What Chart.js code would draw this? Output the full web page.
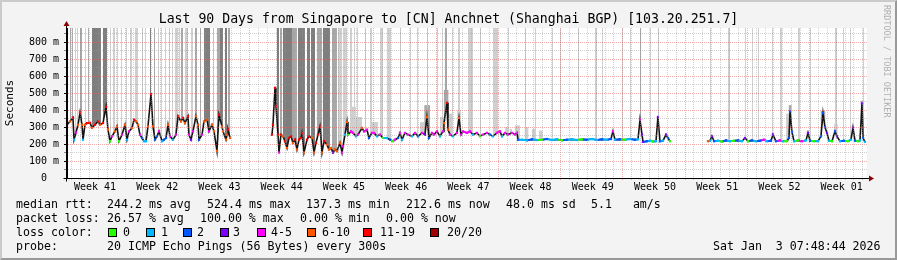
<!DOCTYPE html>
<html>
<head>
<meta charset="utf-8">
<script src="https://cdn.jsdelivr.net/npm/chart.js@4.4.1/dist/chart.umd.min.js"></script>
<style>
  html, body { margin: 0; padding: 0; background: #f3f3f3; }
  #wrap { position: relative; width: 897px; height: 260px; overflow: hidden; font-family: 'DejaVu Sans Mono', monospace; color: #000; }
  #wrap canvas { position: absolute; left: 0; top: 0; }
  #title { position: absolute; left: 0; top: 11px; width: 897px; text-align: center; font-size: 13.2px; line-height: 16px; white-space: pre; }
  #credit { position: absolute; left: 882px; top: 5px; writing-mode: vertical-rl; font-size: 8.5px; line-height: 10px; color: #b0b0b0; white-space: pre; }
  .t { position: absolute; white-space: pre; font-size: 11.6px; line-height: 14px; }
  .box { position: absolute; top: 228px; width: 7px; height: 7px; border: 1px solid #000; }
  #frame { position: absolute; left: 0; top: 0; width: 897px; height: 260px; box-sizing: border-box; border-top: 2px solid #cbcbcb; border-left: 2px solid #cbcbcb; border-right: 2px solid #999; border-bottom: 2px solid #999; pointer-events: none; }
</style>
</head>
<body>
<div id="wrap">
  <canvas id="chartSmoke" width="897" height="260"></canvas>
  <div id="title">Last 90 Days from Singapore to [CN] Anchnet (Shanghai BGP) [103.20.251.7]</div>
  <div id="credit">RRDTOOL / TOBI OETIKER</div>

  <div class="t" style="left:16px;top:197px">median rtt:</div>
  <div class="t" style="left:107px;top:197px">244.2 ms avg</div>
  <div class="t" style="left:207px;top:197px">524.4 ms max</div>
  <div class="t" style="left:306px;top:197px">137.3 ms min</div>
  <div class="t" style="left:406px;top:197px">212.6 ms now</div>
  <div class="t" style="left:506px;top:197px">48.0 ms sd</div>
  <div class="t" style="left:591px;top:197px">5.1   am/s</div>

  <div class="t" style="left:16px;top:211px">packet loss:</div>
  <div class="t" style="left:107px;top:211px">26.57 % avg</div>
  <div class="t" style="left:200px;top:211px">100.00 % max</div>
  <div class="t" style="left:300px;top:211px">0.00 % min</div>
  <div class="t" style="left:386px;top:211px">0.00 % now</div>

  <div class="t" style="left:16px;top:225px">loss color:</div>
  <div id="lossLegend"></div>

  <div class="t" style="left:16px;top:239px">probe:</div>
  <div class="t" style="left:107px;top:239px">20 ICMP Echo Pings (56 Bytes) every 300s</div>
  <div class="t" style="left:713px;top:239px">Sat Jan  3 07:48:44 2026</div>
  <div id="frame"></div>
</div>
<script>
// Data median rtt (ms) per sampel, hari sejak awal grafik; null = tidak ada data
const rttDays = [
  0, 0.34, 0.67, 0.79, 1.01, 1.24, 1.46, 1.69, 1.80, 2.02, 2.25, 2.59, 2.81, 3.15, 3.49, 3.71, 4.05, 4.39, 4.61, 4.84,
  5.06, 5.40, 5.62, 5.85, 6.19, 6.52, 6.75, 6.97, 7.31, 7.54, 7.76, 7.99, 8.21, 8.44, 8.66, 8.89, 9.11, 9.45, 9.67, 9.90,
  10.12, 10.35, 10.69, 10.91, 11.14, 11.36, 11.59, 11.92, 12.26, 12.49, 12.82, 13.05, 13.27, 13.61, 13.72, 13.95, 14.17, 14.51, 14.74, 14.85,
  15.19, 15.41, 15.75, 15.97, 16.31, 16.54, 16.87, 17.10, 17.44, 17.55, 17.89, 18.00, 18.11, 18.34,
  20.5,
  23.06, 23.17, 23.40, 23.51, 23.74, 23.85, 24.07, 24.30, 24.52, 24.75, 24.97, 25.20, 25.42, 25.65, 25.87, 26.10, 26.32, 26.44, 26.66, 27.00,
  27.22, 27.56, 27.79, 28.01, 28.24, 28.46, 28.69, 28.91, 29.25, 29.47, 29.70, 29.92, 30.15, 30.37, 30.71, 30.94, 31.05, 31.27, 31.50, 31.61,
  31.95, 32.17, 32.51, 32.74, 33.19, 33.41, 33.75, 33.97, 34.31, 34.54, 34.87, 35.21, 35.55, 36.00, 36.34, 36.67, 36.90, 37.24, 37.46, 37.69,
  38.02, 38.36, 38.81, 39.15, 39.49, 39.94, 40.27, 40.50, 40.72, 41.06, 41.29, 41.62, 41.96, 42.30, 42.41, 42.75, 42.86, 43.09, 43.42, 43.87,
  44.10, 44.32, 44.55, 45.00, 45.34, 45.67, 46.12, 46.46, 46.80, 47.25, 47.59, 47.92, 48.37, 48.71, 48.94, 49.27, 49.61, 50.06, 50.40, 50.62,
  50.74,
  51.19, 51.75, 52.31, 52.87, 53.44, 54.00, 54.56, 55.12, 55.69, 56.25, 56.81, 57.37, 57.94, 58.50, 59.06, 59.62, 60.19, 60.75, 61.20, 61.42,
  61.65, 62.21, 62.77, 63.34, 63.90, 64.24, 64.46, 64.69, 64.80, 65.25, 65.59, 65.92, 66.26, 66.48, 66.71, 67.05, 67.39, 67.61, 67.84,
  70.0,
  72.11, 72.34, 72.56, 72.79, 73.24, 73.69, 74.14, 74.59, 75.04, 75.49, 75.94, 76.27, 76.61, 77.06, 77.51, 77.96, 78.41, 78.75, 79.20, 79.42,
  79.76, 80.21, 80.55, 81.00, 81.22, 81.34, 81.56, 81.79, 82.24, 82.69, 83.14, 83.36, 83.59, 84.04, 84.49, 84.82, 85.05, 85.27, 85.50, 85.72,
  86.06, 86.40, 86.62, 86.96, 87.41, 87.86, 88.20, 88.42, 88.65, 88.99, 89.21, 89.44, 89.55, 89.77
];
const rttMedian = [
  315, 334, 356, 226, 268, 314, 385, 314, 226, 314, 324, 326, 296, 314, 334, 314, 324, 420, 285, 217,
  246, 275, 304, 217, 255, 314, 226, 275, 295, 344, 334, 314, 255, 236, 217, 217, 304, 495, 305, 226,
  246, 275, 217, 226, 236, 314, 246, 226, 255, 364, 334, 354, 324, 364, 255, 226, 275, 364, 314, 226,
  255, 334, 344, 275, 314, 275, 160, 373, 304, 275, 226, 255, 285, 236,
  null,
  255, 314, 532, 422, 255, 150, 255, 246, 217, 177, 236, 246, 207, 226, 168, 226, 236, 265, 150, 226,
  246, 236, 150, 207, 255, 304, 150, 217, 197, 168, 177, 150, 168, 158, 207, 150, 187, 255, 330, 255,
  275, 266, 246, 256, 295, 275, 285, 236, 266, 266, 246, 256, 236, 236, 226, 217, 226, 236, 266, 226,
  266, 256, 246, 266, 246, 266, 256, 361, 236, 266, 256, 275, 246, 275, 324, 444, 285, 256, 246, 266,
  354, 256, 275, 266, 275, 256, 266, 246, 256, 266, 256, 246, 266, 275, 246, 266, 256, 266, 256, 266,
  226,
  226, 222, 228, 224, 226, 230, 224, 228, 222, 226, 228, 224, 228, 226, 230, 224, 228, 226, 230, 275,
  226, 228, 226, 230, 226, 228, 344, 256, 213, 217, 220, 215, 217, 360, 217, 220, 256, 236, 217,
  null,
  217, 220, 246, 217, 220, 215, 222, 217, 220, 222, 217, 236, 217, 222, 217, 220, 226, 217, 220, 256,
  217, 222, 217, 217, 236, 393, 270, 217, 222, 217, 222, 266, 220, 217, 217, 246, 383, 300, 266, 220,
  217, 275, 246, 217, 220, 217, 226, 297, 220, 217, 222, 440, 236, 213
];
// Jumlah ping hilang (dari 20) per sampel
const rttLoss = [
  13, 8, 13, 1, 4, 8, 13, 8, 1, 8, 13, 13, 8, 13, 13, 8, 13, 13, 8, 0,
  4, 8, 8, 0, 4, 8, 1, 4, 8, 13, 8, 8, 4, 2, 1, 1, 8, 13, 8, 2,
  2, 4, 1, 2, 2, 8, 4, 1, 4, 13, 8, 13, 8, 13, 4, 3, 4, 8, 8, 2,
  4, 8, 8, 4, 8, 8, 8, 13, 8, 8, 8, 8, 13, 8,
  0,
  13, 13, 13, 13, 13, 4, 13, 8, 13, 8, 13, 13, 8, 13, 8, 13, 13, 13, 8, 13,
  13, 8, 8, 13, 13, 13, 8, 13, 8, 8, 8, 3, 8, 8, 8, 4, 4, 1, 8, 0,
  4, 4, 1, 4, 6, 4, 4, 2, 4, 4, 1, 4, 0, 1, 2, 0, 4, 2, 4, 1,
  4, 4, 1, 4, 2, 4, 3, 6, 2, 4, 4, 4, 1, 4, 6, 11, 6, 4, 1, 4,
  6, 4, 4, 4, 4, 1, 4, 0, 4, 4, 2, 1, 4, 4, 1, 4, 4, 4, 4, 4,
  2,
  1, 1, 2, 1, 0, 2, 1, 1, 0, 2, 1, 1, 0, 2, 1, 1, 2, 1, 2, 4,
  1, 2, 0, 1, 2, 1, 4, 3, 3, 2, 1, 0, 1, 3, 2, 1, 3, 2, 0,
  0,
  6, 1, 3, 2, 1, 0, 2, 1, 0, 2, 1, 3, 0, 2, 1, 2, 4, 1, 2, 3,
  2, 4, 1, 0, 2, 2, 2, 1, 0, 4, 1, 3, 2, 0, 1, 2, 2, 2, 3, 1,
  0, 2, 3, 1, 2, 0, 1, 3, 2, 0, 1, 3, 2, 1
];

// Asap pendek (haze): rentang hari, puncak rtt (ms), kepadatan 1..3
const hazeFrom = [32.06, 32.50, 34.31, 39.71, 40.20, 41.96, 42.40, 42.90, 43.90, 49.30,
  49.80, 50.40, 51.50, 52.30, 53.10, 80.90, 81.20, 84.80, 86.30, 89.30];
const hazeTo = [32.50, 33.19, 34.99, 40.20, 40.84, 42.40, 42.90, 43.31, 44.30, 49.60,
  50.06, 50.96, 51.90, 52.70, 53.50, 81.20, 81.50, 85.30, 86.70, 89.60];
const hazeTop = [420, 360, 330, 330, 430, 360, 520, 380, 400, 300,
  290, 310, 300, 290, 280, 380, 430, 395, 320, 455];
const hazeLevel = [1, 1, 1, 1, 2, 1, 2, 1, 1, 1,
  1, 1, 1, 1, 1, 1, 2, 2, 1, 2];

// Kolom asap yang keluar dari skala (ping sangat lambat): rentang hari, kepadatan 1..3
const burstFrom = [
  0.00, 0.34, 0.56, 1.12, 1.46, 2.02, 2.81, 4.05, 5.17, 5.62,
  7.09, 7.65, 8.44, 9.34, 10.24, 11.02, 11.81, 12.15, 12.82, 13.27,
  13.95, 14.40, 15.41, 16.87, 17.21, 17.77, 18.11, 23.62, 23.96, 24.30,
  25.31, 25.99, 27.00, 27.45, 28.12, 28.80, 29.81, 30.49, 31.05, 31.84,
  32.29, 32.62, 33.52, 34.09, 35.21, 35.99, 37.46, 38.59, 39.37, 40.50,
  41.62, 42.19, 42.52, 43.31, 43.99, 45.11, 46.46, 47.92, 49.61, 51.52,
  52.65, 54.56, 55.46, 57.49, 59.40, 60.19, 62.44, 63.34, 64.46, 65.59,
  66.48, 72.34, 74.36, 76.27, 77.06, 77.74, 79.31, 80.21, 82.24, 83.59,
  86.40, 87.30, 88.09, 89.55, 0.90, 2.36, 4.84, 6.07, 6.64, 8.77,
  9.79, 10.57, 11.47, 12.60, 14.96, 16.42
];
const burstTo = [
  0.11, 0.45, 0.67, 1.24, 1.69, 2.14, 3.82, 4.50, 5.40, 5.74,
  7.31, 7.99, 8.55, 9.45, 10.35, 11.14, 11.92, 12.49, 13.05, 13.61,
  14.17, 14.62, 16.09, 17.21, 17.55, 18.00, 18.34, 23.85, 24.19, 25.31,
  25.87, 26.77, 27.34, 27.90, 28.69, 29.59, 30.37, 30.94, 31.50, 32.06,
  32.40, 32.74, 33.64, 34.31, 35.55, 36.45, 37.57, 38.70, 39.49, 40.61,
  41.74, 42.30, 42.75, 43.42, 44.21, 45.67, 46.57, 48.49, 49.72, 51.64,
  52.76, 54.67, 55.57, 57.60, 59.62, 60.30, 62.55, 63.45, 64.58, 65.70,
  66.60, 72.45, 74.59, 76.39, 77.17, 77.85, 79.42, 80.44, 82.46, 83.70,
  86.62, 87.41, 88.20, 89.66, 1.01, 2.47, 4.95, 6.19, 6.75, 8.89,
  9.90, 10.69, 11.59, 12.71, 15.08, 16.54
];
const burstLevel = [
  3, 2, 2, 1, 2, 1, 3, 3, 1, 1,
  1, 1, 1, 3, 1, 1, 1, 1, 2, 1,
  1, 2, 3, 2, 3, 3, 2, 3, 2, 3,
  2, 3, 3, 3, 2, 3, 2, 1, 1, 1,
  1, 1, 1, 1, 1, 1, 1, 1, 1, 1,
  1, 1, 2, 1, 1, 1, 1, 1, 1, 1,
  1, 1, 1, 1, 1, 1, 1, 1, 2, 1,
  1, 1, 1, 1, 1, 1, 1, 1, 1, 1,
  1, 1, 1, 1, 1, 2, 1, 1, 1, 1,
  2, 1, 1, 1, 2, 1
];

// Sumbu
const yTicks = [0, 50, 100, 150, 200, 250, 300, 350, 400, 450, 500, 550, 600, 650, 700, 750, 800, 850];
const weekTicks = [3.15, 10.15, 17.15, 24.15, 31.15, 38.15, 45.15, 52.15, 59.15, 66.15, 73.15, 80.15, 87.15];
const weekLabels = ['Week 41', 'Week 42', 'Week 43', 'Week 44', 'Week 45', 'Week 46', 'Week 47',
  'Week 48', 'Week 49', 'Week 50', 'Week 51', 'Week 52', 'Week 01'];
const firstWeekLine = 6.525;

// Legenda warna loss
const lossNames = ['0', '1', '2', '3', '4-5', '6-10', '11-19', '20/20'];
const lossColors = ['#26ff00', '#00b8ff', '#0059ff', '#7e00ff', '#ff00ff', '#ff5500', '#ff0000', '#a10000'];

const Y_MAX = 885;
const smokeShade = { 1: '#cfcfcf', 2: '#a8a8a8', 3: '#7e7e7e' };
const gridMinor = 'rgba(150,150,150,0.45)';
const gridMajor = 'rgba(230,90,90,0.5)';

function lossColor(n) {
  if (n <= 0) return lossColors[0];
  if (n === 1) return lossColors[1];
  if (n === 2) return lossColors[2];
  if (n === 3) return lossColors[3];
  if (n <= 5) return lossColors[4];
  if (n <= 10) return lossColors[5];
  if (n <= 19) return lossColors[6];
  return lossColors[7];
}

// legenda warna (kotak + teks)
const boxX = [108, 146, 183, 220, 257, 307, 363, 430];
const nameX = [123, 161, 197, 233, 271, 322, 380, 447];
const legendEl = document.getElementById('lossLegend');
lossNames.forEach((name, i) => {
  const b = document.createElement('div');
  b.className = 'box';
  b.style.left = boxX[i] + 'px';
  b.style.background = lossColors[i];
  legendEl.appendChild(b);
  const t = document.createElement('div');
  t.className = 't';
  t.style.left = nameX[i] + 'px';
  t.style.top = '225px';
  t.textContent = name;
  legendEl.appendChild(t);
});

// garis hari (grid minor) dan minggu (grid mayor)
const dayLines = [];
for (let d = firstWeekLine % 1; d < 90; d += 1) dayLines.push(d);
const isWeekLine = v => {
  const k = (v - firstWeekLine) / 7;
  return Math.abs(k - Math.round(k)) < 0.01;
};

const medianPoints = rttDays.map((d, i) => ({ x: d, y: rttMedian[i] }));
const hazePoints = hazeFrom.map((f, i) => ({ x: (f + hazeTo[i]) / 2, y: [0, hazeTop[i]] }));
const burstPoints = burstFrom.map((f, i) => ({ x: (f + burstTo[i]) / 2, y: [0, Y_MAX + 20] }));

// lebar kolom asap mengikuti rentang waktunya
const smokeWidth = {
  id: 'smokeWidth',
  afterDatasetsUpdate(chart) {
    const xs = chart.scales.x;
    const fit = (meta, from, to) => meta.data.forEach((bar, i) => {
      const a = xs.getPixelForValue(from[i]);
      const b = xs.getPixelForValue(to[i]);
      bar.x = (a + b) / 2;
      bar.width = Math.max(1, b - a);
    });
    fit(chart.getDatasetMeta(0), hazeFrom, hazeTo);
    fit(chart.getDatasetMeta(1), burstFrom, burstTo);
  }
};

const canvasBg = {
  id: 'canvasBg',
  beforeDraw(chart) {
    const { ctx, chartArea: a } = chart;
    ctx.save();
    ctx.fillStyle = '#ffffff';
    ctx.fillRect(a.left, a.top, a.right - a.left, a.bottom - a.top);
    ctx.restore();
  }
};

const axisArrows = {
  id: 'axisArrows',
  afterDraw(chart) {
    const { ctx, chartArea: a } = chart;
    const x0 = Math.round(a.left) - 0.5;
    const y0 = Math.round(a.bottom) + 0.5;
    ctx.save();
    ctx.strokeStyle = '#000';
    ctx.lineWidth = 1;
    ctx.beginPath();
    ctx.moveTo(x0, y0 + 3);
    ctx.lineTo(x0, a.top - 3);
    ctx.moveTo(x0 - 3, y0);
    ctx.lineTo(a.right + 3, y0);
    ctx.stroke();
    ctx.fillStyle = '#8b0000';
    ctx.beginPath();
    ctx.moveTo(x0, a.top - 7);
    ctx.lineTo(x0 - 3, a.top - 2);
    ctx.lineTo(x0 + 3, a.top - 2);
    ctx.closePath();
    ctx.fill();
    ctx.beginPath();
    ctx.moveTo(a.right + 7, y0);
    ctx.lineTo(a.right + 2, y0 - 3);
    ctx.lineTo(a.right + 2, y0 + 3);
    ctx.closePath();
    ctx.fill();
    ctx.restore();
  }
};

const ctx = document.getElementById('chartSmoke').getContext('2d');

const config = {
  type: 'line',
  data: {
    datasets: [
      {
        type: 'bar',
        label: 'haze',
        data: hazePoints,
        backgroundColor: c => smokeShade[hazeLevel[c.dataIndex]],
        borderWidth: 0,
        grouped: false,
        order: 4
      },
      {
        type: 'bar',
        label: 'burst',
        data: burstPoints,
        backgroundColor: c => smokeShade[burstLevel[c.dataIndex]],
        borderWidth: 0,
        grouped: false,
        order: 3
      },
      {
        label: 'median',
        data: medianPoints,
        borderColor: '#141414',
        borderWidth: 1.6,
        pointRadius: 0,
        tension: 0,
        fill: 'origin',
        backgroundColor: '#ffffff',
        spanGaps: false,
        order: 2
      },
      {
        label: 'loss',
        data: medianPoints,
        borderWidth: 2,
        pointRadius: c => (c.raw && c.raw.y != null ? 1.6 : 0),
        pointStyle: 'rect',
        pointBorderWidth: 0,
        pointBackgroundColor: c => lossColor(rttLoss[c.dataIndex]),
        fill: false,
        tension: 0,
        spanGaps: false,
        segment: {
          borderColor: c => Math.abs(c.p1.y - c.p0.y) > 1.6 ? 'rgba(0,0,0,0)' : lossColor(rttLoss[c.p1DataIndex])
        },
        order: 1
      }
    ]
  },
  options: {
    responsive: false,
    animation: false,
    devicePixelRatio: 1,
    events: [],
    layout: { padding: { top: 28, right: 30, left: 0, bottom: 0 } },
    plugins: {
      legend: { display: false },
      title: { display: false },
      tooltip: { enabled: false }
    },
    scales: {
      x: {
        type: 'linear',
        min: 0,
        max: 90,
        offset: false,
        position: 'bottom',
        weight: 0,
        afterBuildTicks: s => { s.ticks = dayLines.map(v => ({ value: v })); },
        afterFit: s => { s.height = 3; },
        ticks: { display: false },
        grid: {
          offset: false,
          z: 1,
          tickLength: 2,
          color: c => isWeekLine(c.tick.value) ? gridMajor : gridMinor
        },
        border: { display: true, color: '#000', dash: [1, 1], z: 2 }
      },
      xw: {
        type: 'linear',
        min: 0,
        max: 90,
        offset: false,
        position: 'bottom',
        weight: 1,
        afterBuildTicks: s => { s.ticks = weekTicks.map(v => ({ value: v })); },
        afterFit: s => { s.height = 79; },
        ticks: {
          autoSkip: false,
          maxRotation: 0,
          padding: 0,
          color: '#000',
          font: { family: 'DejaVu Sans Mono', size: 10 },
          callback: (v, i) => weekLabels[i]
        },
        grid: { display: false, drawTicks: false },
        border: { display: false }
      },
      y: {
        type: 'linear',
        min: 0,
        max: Y_MAX,
        afterBuildTicks: s => { s.ticks = yTicks.map(v => ({ value: v })); },
        afterFit: s => { s.width = 67; },
        ticks: {
          autoSkip: false,
          padding: 5,
          color: '#000',
          font: { family: 'DejaVu Sans Mono', size: 10 },
          callback: v => (v % 100 !== 0 ? '' : (v === 0 ? '0  ' : v + ' m'))
        },
        grid: {
          z: 1,
          tickLength: 3,
          color: c => (c.tick.value % 100 === 0 ? gridMajor : gridMinor),
          tickColor: c => (c.tick.value % 100 === 0 ? '#000' : '#888')
        },
        border: { display: true, color: '#000', dash: [1, 1], z: 2 },
        title: {
          display: true,
          text: 'Seconds',
          color: '#000',
          font: { family: 'DejaVu Sans Mono', size: 11 },
          padding: { top: 4, bottom: 0 }
        }
      }
    }
  },
  plugins: [canvasBg, smokeWidth, axisArrows]
};

new Chart(ctx, config);
</script>
</body>
</html>
